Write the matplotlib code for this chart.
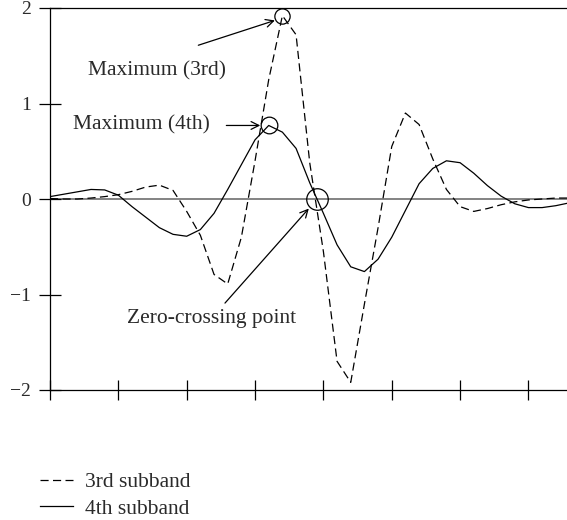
import numpy as np
import matplotlib
matplotlib.use("Agg")
import matplotlib.pyplot as plt

# ---- data (sample index 0..38, ticks every 5 samples) ----
sub3 = [0.005, 0.0, 0.0, 0.01, 0.025, 0.045, 0.08, 0.125, 0.145, 0.09,
        -0.13, -0.38, -0.79, -0.89, -0.40, 0.40, 1.25, 1.92, 1.72, 0.38,
        -0.55, -1.70, -1.92, -1.10, -0.30, 0.55, 0.90, 0.78, 0.42, 0.10,
        -0.08, -0.13, -0.10, -0.06, -0.03, -0.01, 0.0, 0.01, 0.01]
sub4 = [0.025, 0.05, 0.075, 0.10, 0.095, 0.04, -0.08, -0.19, -0.30, -0.37,
        -0.39, -0.32, -0.15, 0.10, 0.36, 0.62, 0.77, 0.70, 0.53, 0.17,
        -0.15, -0.48, -0.71, -0.76, -0.63, -0.40, -0.12, 0.16, 0.32, 0.40,
        0.38, 0.27, 0.14, 0.03, -0.05, -0.09, -0.09, -0.07, -0.04]
xticks = [0, 5, 10, 15, 20, 25, 30, 35]
yticks = [-2, -1, 0, 1, 2]
legend_labels = ["3rd subband", "4th subband"]

plt.rcParams['font.family'] = ['Liberation Serif', 'DejaVu Serif']
TXT = '#2a2a2a'

fig = plt.figure(figsize=(5.67, 5.2), dpi=100)
ax = fig.add_axes([50/567, 130/520, 517/567, 382/520])
ax.set_facecolor('none')
ax.patch.set_alpha(0)

x = np.arange(len(sub3))
l3, = ax.plot(x, sub3, color='black', lw=0.9, linestyle=(0, (6.5, 3.5)))
l4, = ax.plot(x, sub4, color='black', lw=0.9)
ax.axhline(0, color='#6e6e6e', lw=1.2, zorder=0)

ax.set_xlim(0, 517/13.67)
ax.set_ylim(-2, 2)
ax.set_xticks(xticks)
ax.set_xticklabels([])
ax.set_yticks(yticks)
ax.set_yticklabels([str(v) if v >= 0 else '\u2212' + str(-v) for v in yticks])
ax.tick_params(axis='x', direction='inout', length=15, width=0.9, color='black')
ax.tick_params(axis='y', direction='inout', length=15.5, width=0.9, color='black',
               labelsize=14, labelcolor=TXT, pad=6)
for s in ['left', 'bottom', 'top']:
    ax.spines[s].set_linewidth(0.9)
ax.spines['right'].set_visible(False)
for sp in ax.spines.values():
    sp.set_clip_on(False)

# maxima and zero crossing
a3 = np.array(sub3); a4 = np.array(sub4)
i3 = int(np.argmax(a3)); i4 = int(np.argmax(a4))
k = i4
while a4[k + 1] > 0:
    k += 1
zc = k + a4[k] / (a4[k] - a4[k + 1])

ax.plot([i3], [a3[i3]], 'o', ms=11, mfc='none', mec='black', mew=0.9, clip_on=False)
ax.plot([i4], [a4[i4]], 'o', ms=12, mfc='none', mec='black', mew=0.9)
ax.plot([zc], [0], 'o', ms=15.5, mfc='none', mec='black', mew=0.9)

ap = dict(arrowstyle='->', color='black', lw=0.9, shrinkA=0, shrinkB=0,
          mutation_scale=14)
ax.annotate('', xy=(i3 - 0.55, a3[i3] - 0.05), xytext=(10.85, 1.61), arrowprops=ap)
ax.text(7.8, 1.34, 'Maximum (3rd)', ha='center', va='center', fontsize=15.5, color=TXT)

ax.annotate('', xy=(i4 - 0.62, a4[i4]), xytext=(12.9, a4[i4]), arrowprops=ap)
ax.text(6.7, 0.78, 'Maximum (4th)', ha='center', va='center', fontsize=15.5, color=TXT)

ax.annotate('', xy=(zc - 0.6, -0.1), xytext=(12.8, -1.09), arrowprops=ap)
ax.text(11.85, -1.25, 'Zero-crossing point', ha='center', va='center', fontsize=15.5, color=TXT)

leg = fig.legend([l3, l4], legend_labels, loc='upper left',
                 bbox_to_anchor=(40/567, 1 - 472/520), frameon=False,
                 fontsize=15.5, handlelength=1.55, handletextpad=0.55,
                 labelspacing=0.3, borderpad=0, borderaxespad=0)
for t in leg.get_texts():
    t.set_color(TXT)

fig.savefig('out.png', dpi=100)
